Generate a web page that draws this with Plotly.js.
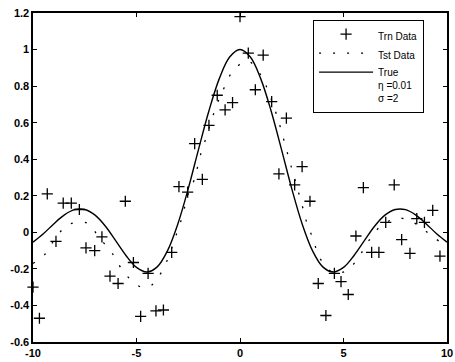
<!DOCTYPE html>
<html>
<head>
<meta charset="utf-8">
<script src="https://cdn.plot.ly/plotly-3.0.1.min.js"></script>
<style>html,body{margin:0;padding:0;background:#fff;}#chart{width:455px;height:362px;}</style>
</head>
<body>
<div id="chart"></div>
<script>
// Training data ("+" markers)
var trnX = [-10.0, -9.69, -9.31, -8.89, -8.54, -8.15, -7.76, -7.44, -7.02, -6.67, -6.28, -5.89, -5.54, -5.15, -4.80, -4.44, -4.06, -3.70, -3.30,
            -2.95, -2.53, -2.19, -1.82, -1.50, -1.10, -0.72, -0.36, 0.0, 0.40, 0.74, 1.12, 1.53, 1.88, 2.24, 2.64, 3.00,
            3.38, 3.78, 4.15, 4.56, 4.88, 5.23, 5.60, 5.96, 6.36, 6.71, 7.04, 7.45, 7.81, 8.21, 8.54, 8.91, 9.31, 9.66];
var trnY = [-0.30, -0.47, 0.21, -0.05, 0.16, 0.16, 0.125, -0.085, -0.10, -0.025, -0.24, -0.28, 0.17, -0.165, -0.46, -0.225, -0.43, -0.425, -0.11,
            0.25, 0.22, 0.485, 0.29, 0.585, 0.75, 0.67, 0.71, 1.18, 0.98, 0.78, 0.97, 0.715, 0.32, 0.625, 0.26, 0.36,
            0.17, -0.28, -0.455, -0.225, -0.27, -0.34, -0.02, 0.245, -0.11, -0.11, 0.055, 0.26, -0.04, -0.115, 0.075, 0.055, 0.12, -0.13];

// Test data (dotted curve)
var tstX = [-10.0, -9.42, -8.85, -8.25, -7.38, -6.80, -6.20, -5.72, -5.09, -4.70, -4.29, -3.71, -3.06, -2.77, -2.53, -2.17, -1.97, -1.69, -1.13, -0.77, -0.32, 0.37,
            1.01, 1.37, 1.69, 1.97, 2.21, 2.46, 2.98, 3.22, 3.54, 3.85, 4.50, 5.18, 5.76, 6.27, 6.84, 7.68, 8.55, 9.27, 10.0];
var tstY = [-0.17, -0.12, -0.02, 0.044, 0.051, -0.03, -0.11, -0.20, -0.28, -0.30, -0.29, -0.20, -0.007, 0.093, 0.20, 0.30, 0.40, 0.50, 0.695, 0.79, 0.886, 0.937,
            0.86, 0.77, 0.67, 0.567, 0.467, 0.365, 0.157, 0.056, -0.04, -0.14, -0.22, -0.208, -0.13, -0.038, 0.038, 0.078, 0.043, -0.021, -0.077];

// True curve
var trueX = [-10, -9.5, -9, -8.5, -8, -7.5, -7, -6.5, -6, -5.5, -5, -4.5, -4, -3.5, -3, -2.5, -2, -1.5, -1, -0.5, 0,
             0.5, 1, 1.5, 2, 2.5, 3, 3.5, 4, 4.5, 5, 5.5, 6, 6.5, 7, 7.5, 8, 8.5, 9, 9.5, 10];
var trueY = [-0.054, -0.008, 0.046, 0.094, 0.124, 0.125, 0.094, 0.033, -0.047, -0.128, -0.192, -0.217, -0.189, -0.100, 0.047, 0.239, 0.455, 0.665, 0.841, 0.959, 1.0,
             0.959, 0.841, 0.665, 0.455, 0.239, 0.047, -0.100, -0.189, -0.217, -0.192, -0.128, -0.047, 0.033, 0.094, 0.125, 0.124, 0.094, 0.046, -0.008, -0.054];

var legendNames = ["Trn Data", "Tst Data", "True", "\u03B7 =0.01", "\u03C3 =2"];

var xTickVals = [-10, -5, 0, 5, 10];
var xTickText = ["-10", "-5", "0", "5", "10"];
var yTickVals = [-0.6, -0.4, -0.2, 0, 0.2, 0.4, 0.6, 0.8, 1, 1.2];
var yTickText = ["-0.6", "-0.4", "-0.2", "0", "0.2", "0.4", "0.6", "0.8", "1", "1.2"];

var traces = [
  {x: trnX, y: trnY, mode: "markers", name: legendNames[0], cliponaxis: false,
   marker: {symbol: "cross-thin-open", size: 8, color: "#000", line: {color: "#000", width: 1.3}}},
  {x: tstX, y: tstY, mode: "lines", name: legendNames[1],
   line: {color: "#000", width: 1.3, dash: "2px,12px", shape: "spline"}},
  {x: trueX, y: trueY, mode: "lines", name: legendNames.slice(2).join("<br>"),
   line: {color: "#000", width: 1.4, shape: "spline"}}
];

var axisCommon = {
  showline: true, linecolor: "#000", linewidth: 1.6, mirror: "ticks",
  ticks: "inside", ticklen: 4, tickwidth: 1, tickcolor: "#000",
  showgrid: false, zeroline: false,
  tickfont: {family: "Liberation Sans, Arial, sans-serif", size: 11, color: "#000", weight: "bold"}
};

var layout = {
  width: 455, height: 362,
  margin: {l: 33, r: 8, t: 13, b: 20, pad: 0},
  paper_bgcolor: "#fff", plot_bgcolor: "#fff",
  showlegend: true,
  xaxis: Object.assign({}, axisCommon, {range: [-10, 10], tickmode: "array", tickvals: xTickVals, ticktext: xTickText}),
  yaxis: Object.assign({}, axisCommon, {range: [-0.6, 1.2], tickmode: "array", tickvals: yTickVals, ticktext: yTickText}),
  legend: {
    x: 0.676, y: 0.979, xanchor: "left", yanchor: "top", valign: "top",
    bgcolor: "#fff", bordercolor: "#000", borderwidth: 1.2,
    font: {family: "Liberation Sans, Arial, sans-serif", size: 10, color: "#000"},
    itemwidth: 54, tracegroupgap: 0
  }
};

Plotly.newPlot("chart", traces, layout, {displayModeBar: false, staticPlot: true});
</script>
</body>
</html>
